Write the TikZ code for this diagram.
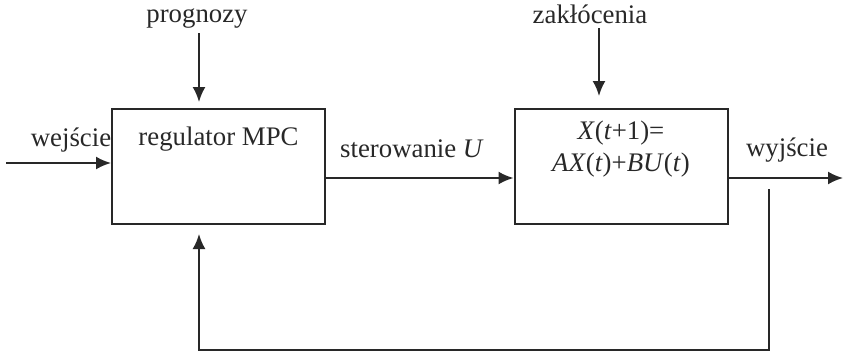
\documentclass[tikz,border=0pt]{standalone}
\usepackage{fontspec}
\setmainfont{Liberation Serif}
\usetikzlibrary{arrows.meta, positioning, calc}
\definecolor{inkgray}{RGB}{40, 40, 40}

\tikzset{
    block/.style={draw=inkgray, line width=1pt, minimum width=106.5pt, minimum height=57.5pt, inner sep=0pt},
    sig/.style={-{Latex[length=7.5pt, width=6.5pt]}, line width=1pt, inkgray},
    lbl/.style={inkgray, inner sep=0pt, font=\fontsize{13.4}{16}\selectfont}
}

\begin{document}
\begin{tikzpicture}[x=0.5pt, y=-0.5pt]
    \useasboundingbox (0,0) rectangle (845,354);

    % Blocks
    \node[block, label={[lbl, anchor=north, yshift=-9pt]north:regulator MPC}] (mpc) at (218.5,166.5) {};
    \node[block, label={[lbl, anchor=north, align=center, yshift=-6.5pt]north:\textit{X}(\textit{t}+1)=\\\textit{AX}(\textit{t})+\textit{BU}(\textit{t})}] (plant) at (621,166.5) {};

    % Labels
    \node[lbl] (prog) at (197,19) {prognozy};
    \node[lbl] (zak) at (590,14) {zakłócenia};
    \node[lbl] (wej) at (71,140) {wejście};
    \node[lbl] (ster) at (412,149) {sterowanie \textit{U}};
    \node[lbl] (wyj) at (787,150) {wyjście};

    % Free ends
    \coordinate (in) at (6,163);
    \coordinate (progtop) at (199,33);
    \coordinate (zaktop) at (599,28);
    \coordinate (out) at (843,178);
    \coordinate (tap) at (769,189);

    % Signals
    \draw[sig] (in) -- (in -| mpc.west);
    \draw[sig, shorten >=3pt] (progtop) -- (progtop |- mpc.north);
    \draw[sig, shorten >=6pt] (zaktop) -- (zaktop |- plant.north);
    \draw[sig] ($(mpc.east)+(0,11.5)$) -- ($(plant.west)+(0,11.5)$);
    \draw[sig] ($(plant.east)+(0,11.5)$) -- (out);

    % Feedback
    \draw[sig, shorten >=4.5pt] (tap) -- (tap |- 0,350) -| (progtop |- mpc.south);

\end{tikzpicture}
\end{document}
